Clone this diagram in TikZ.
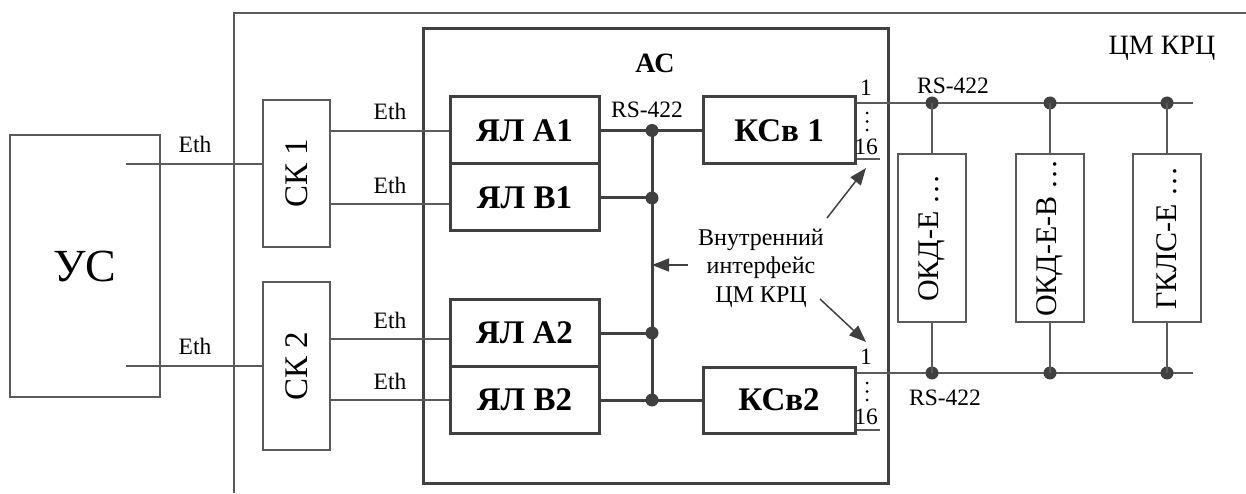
\documentclass[tikz,border=0pt]{standalone}
\usepackage{fontspec}
\setmainfont{Liberation Serif}
\usetikzlibrary{arrows.meta}
\definecolor{cdark}{HTML}{404040}
\definecolor{cmid}{HTML}{5A5A5A}
\definecolor{cbus}{HTML}{737373}
\begin{document}
\begin{tikzpicture}[x=1pt,y=-1pt,
  thinl/.style={draw=cmid,line width=1.5pt},
  thickl/.style={draw=cdark,line width=3pt},
  thinbox/.style={rectangle,draw=cmid,line width=1.5pt,inner sep=0pt},
  thickbox/.style={rectangle,draw=cdark,line width=3pt,inner sep=0pt},
  dotn/.style={circle,fill=cdark,inner sep=0pt,minimum size=13pt},
  lbl/.style={inner sep=0pt,font=\fontsize{23.5}{27}\selectfont},
  bigb/.style={font=\fontsize{33}{38}\selectfont\bfseries},
  arr/.style={draw=cdark,line width=1.5pt,-{Triangle[length=17pt,width=13pt]}}
]
\useasboundingbox (0,0) rectangle (1246,494);
% outer frame
\coordinate (fb) at (234,493);
\coordinate (ftl) at (234,13);
\coordinate (fr) at (1246,13);
\draw[thinl] (fb) -- (ftl) -- (fr);
\node[inner sep=0pt,font=\fontsize{28}{32}\selectfont] (cmk) at (1162,48) {ЦМ КРЦ};

% US
\node[thinbox,minimum width=150pt,minimum height=262pt,font=\fontsize{46}{52}\selectfont] (us) at (85,266) {УС};
% SK
\node[thinbox,minimum width=67pt,minimum height=147pt] (ck1) at (296.5,173.5) {};
\node[rotate=90,inner sep=0pt,font=\fontsize{33}{38}\selectfont] at (ck1.center) {СК 1};
\node[thinbox,minimum width=67pt,minimum height=168pt] (ck2) at (296.5,366) {};
\node[rotate=90,inner sep=0pt,font=\fontsize{33}{38}\selectfont] at (ck2.center) {СК 2};

% AC
\node[thickbox,minimum width=465pt,minimum height=454pt] (ac) at (655.5,256) {};
\node[inner sep=0pt,font=\fontsize{28}{32}\selectfont\bfseries] (actitle) at (655,63) {АС};

\node[thickbox,minimum width=149pt,minimum height=67pt,bigb] (ya1) at (524.5,130.5) {ЯЛ А1};
\node[thickbox,minimum width=149pt,minimum height=67pt,bigb] (yb1) at (524.5,197.5) {ЯЛ В1};
\node[thickbox,minimum width=149pt,minimum height=67pt,bigb] (ya2) at (524.5,332.5) {ЯЛ А2};
\node[thickbox,minimum width=149pt,minimum height=67pt,bigb] (yb2) at (524.5,399.5) {ЯЛ В2};
\node[thickbox,minimum width=152pt,minimum height=67pt,bigb] (ks1) at (779,130.5) {КСв 1};
\node[thickbox,minimum width=152pt,minimum height=66pt,bigb] (ks2) at (779,400) {КСв2};

% US -> SK
\coordinate (us1) at (126,164);
\coordinate (us2) at (126,366);
\draw[thinl] (us1) -- (us1 -| ck1.west);
\draw[thinl] (us2) -- (us2 -| ck2.west);
\node[lbl] at (195,144) {Eth};
\node[lbl] at (195,346) {Eth};

% SK -> YL
\draw[thinl] (ck1.east |- 0,131) -- (ya1.west |- 0,131);
\draw[thinl] (ck1.east |- 0,204) -- (yb1.west |- 0,204);
\draw[thinl] (ck2.east |- 0,339) -- (ya2.west |- 0,339);
\draw[thinl] (ck2.east |- 0,400) -- (yb2.west |- 0,400);
\node[lbl] at (390,111) {Eth};
\node[lbl] at (390,185) {Eth};
\node[lbl] at (390,320) {Eth};
\node[lbl] at (390,381) {Eth};

% internal bus
\node[dotn] (d1) at (652,130.5) {};
\node[dotn] (d2) at (652,198) {};
\node[dotn] (d3) at (652,333) {};
\node[dotn] (d4) at (652,400) {};
\draw[thickl] (d1.center) -- (d4.center);
\draw[thickl] (ya1.east) -- (d1.center) -- (ks1.west);
\draw[thickl] (yb1.east |- d2) -- (d2.center);
\draw[thickl] (ya2.east |- d3) -- (d3.center);
\draw[thickl] (yb2.east |- d4) -- (d4.center) -- (ks2.west |- d4);
\node[lbl] at (647,110) {RS-422};

% outputs of KSv
\coordinate (b1e) at (1193,103);
\coordinate (b2e) at (1193,373);
\draw[thinl] (ks1.east |- b1e) -- (b1e);
\draw[thinl] (ks1.east |- 0,159) -- (880,159);
\draw[thinl] (ks2.east |- b2e) -- (b2e);
\draw[thinl] (ks2.east |- 0,430) -- (880,430);
\node[lbl] at (866,88) {1};
\node[lbl] at (866,147) {16};
\node[lbl] at (866,357) {1};
\node[lbl] at (866,417) {16};
\foreach \yy in {113,121.5,130,383,391.5,400}{
  \fill[black] (867,\yy) circle (1.5pt);
}
\node[lbl] at (953,86) {RS-422};
\node[lbl] at (945,398) {RS-422};

% right devices
\node[thinbox,minimum width=68pt,minimum height=168pt] (o1) at (932,238) {};
\node[rotate=90,inner sep=0pt,font=\fontsize{30}{34}\selectfont] at (o1.center) {ОКД-Е …};
\node[thinbox,minimum width=68pt,minimum height=168pt] (o2) at (1050,238) {};
\node[rotate=90,inner sep=0pt,font=\fontsize{30}{34}\selectfont] at (o2.center) {ОКД-Е-В …};
\node[thinbox,minimum width=68pt,minimum height=168pt] (o3) at (1167,238) {};
\node[rotate=90,inner sep=0pt,font=\fontsize{30}{34}\selectfont] at (o3.center) {ГКЛС-Е …};

\foreach \n/\x in {1/932,2/1050,3/1167}{
  \node[dotn] (t\n) at (\x,103) {};
  \node[dotn] (u\n) at (\x,373) {};
  \draw[thinl] (t\n.center) -- (o\n.north);
  \draw[thinl] (u\n.center) -- (o\n.south);
}

% internal interface label and arrows
\node[align=center,inner sep=0pt,font=\fontsize{24}{28.5}\selectfont] (ii) at (761,268) {Внутренний\\интерфейс\\ЦМ КРЦ};
\coordinate (a1s) at (827,218);
\coordinate (a1e) at (866,168);
\coordinate (a2s) at (688,265);
\coordinate (a3s) at (820,299);
\coordinate (a3e) at (866,342);
\draw[arr] (a1s) -- (a1e);
\draw[arr] (a2s) -- (a2s -| d1);
\draw[arr] (a3s) -- (a3e);
\end{tikzpicture}
\end{document}
